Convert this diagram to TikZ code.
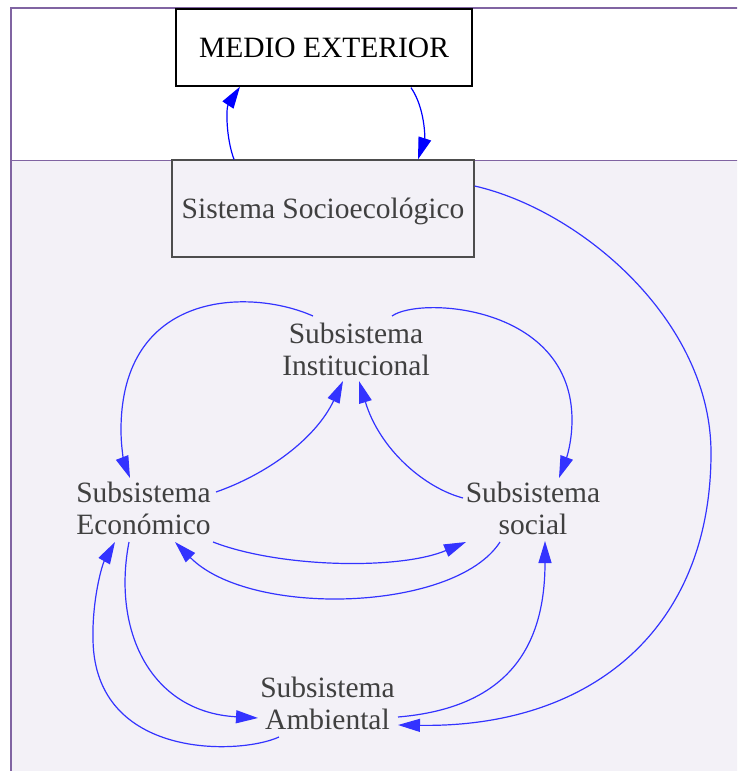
\documentclass[tikz,border=0pt]{standalone}
\usepackage{fontspec}
\setmainfont{Liberation Serif}
\usetikzlibrary{arrows.meta,calc}
\definecolor{framepurple}{RGB}{128,100,162}
\definecolor{panelfill}{RGB}{243,241,247}
\definecolor{linkblue}{RGB}{51,51,255}
\definecolor{extblue}{RGB}{0,0,255}
\definecolor{labelgrey}{RGB}{64,64,64}
\definecolor{boxgrey}{RGB}{77,77,77}
\begin{document}
\begin{tikzpicture}[x=1pt,y=-1pt,
  bigfont/.style={font=\fontsize{29.5}{32}\selectfont},
  extbox/.style={bigfont, draw=black, fill=white, line width=1.3pt, inner sep=0pt,
    minimum width=296pt, minimum height=77pt, text height=21pt, text depth=2pt},
  sysbox/.style={bigfont, draw=boxgrey, fill=panelfill, text=labelgrey, line width=1.3pt,
    inner sep=0pt, minimum width=302pt, minimum height=97pt, text height=21pt, text depth=2pt},
  subsys/.style={bigfont, align=center, inner sep=0pt, text=labelgrey},
  link/.style={draw=linkblue, line width=1.2pt, -{Triangle[length=22pt,width=13pt]}},
  extlink/.style={link, draw=extblue, -{Triangle[length=22pt,width=13pt]}}]
\useasboundingbox (0,0) rectangle (737,771);

% frame: outer environment on top, system panel below
\begin{scope}
  \clip (0,0) rectangle (737,771);
  \fill[white] (0,0) rectangle (737,771);
  \fill[panelfill] (11,160) rectangle (745,780);
  \draw[framepurple, line width=1pt] (11,160) -- (745,160);
  \draw[framepurple, line width=2pt] (11,780) -- (11,8) -- (745,8);
\end{scope}

% boxes
\node[extbox] (medio) at (324,47.5) {MEDIO EXTERIOR};
\node[sysbox] (sistema) at (323,208.5) {Sistema Socioecológico};

% subsystems
\node[subsys] (inst) at (356,349) {Subsistema\\Institucional};
\node[subsys] (econ) at (143.5,508.4) {Subsistema\\Económico};
\node[subsys] (soc)  at (533,508.4) {Subsistema\\social};
\node[subsys] (amb)  at (327.5,703.4) {Subsistema\\Ambiental};

% exchange with the outer environment
\draw[extlink] ($(sistema.north)+(-89,0)$) .. controls (226,138) and (226,108) .. ($(medio.south)+(-84,0)$);
\draw[extlink] ($(medio.south)+(87,1)$) .. controls (425,108) and (425,138) .. ($(sistema.north)+(95,0)$);

% system to environmental subsystem
\draw[link] ($(sistema.east)+(0,-22.5)$) .. controls (580,210) and (711,320) .. (711,453)
  .. controls (711,630) and (590,728) .. ($(amb)+(70.5,21.6)$);

% institutional links
\draw[link] ($(inst)+(-43,-33)$) .. controls (250,288) and (121,290) .. (121,430)
  .. controls (121,450) and (125,465) .. ($(econ)+(-13.5,-30.4)$);
\draw[link] ($(inst)+(36,-33)$) .. controls (420,296) and (572,305) .. (572,420)
  .. controls (572,445) and (565,462) .. ($(soc)+(26,-30.4)$);
\draw[link] ($(econ)+(72.5,-16.4)$) .. controls (265,475) and (315,440) .. ($(inst)+(-13,32)$);
\draw[link] ($(soc)+(-70,-10.4)$) .. controls (425,488) and (380,450) .. ($(inst)+(3,32)$);

% economic / social
\draw[link] ($(econ)+(69.5,33.6)$) .. controls (280,568) and (400,570) .. ($(soc)+(-67,33.6)$);
\draw[link] ($(soc)+(-33,33.6)$) .. controls (455,612) and (250,618) .. ($(econ)+(31.5,33.6)$);

% environmental links
\draw[link] ($(econ)+(-14.5,33.6)$) .. controls (112,630) and (150,712) .. ($(amb)+(-69.5,14.6)$);
\draw[link] ($(amb)+(-48.5,33.6)$) .. controls (240,755) and (95,760) .. (93,640)
  .. controls (92,600) and (102,565) .. ($(econ)+(-28.5,33.6)$);
\draw[link] ($(amb)+(70.5,13.6)$) .. controls (505,708) and (545,650) .. ($(soc)+(12,32.6)$);
\end{tikzpicture}
\end{document}
